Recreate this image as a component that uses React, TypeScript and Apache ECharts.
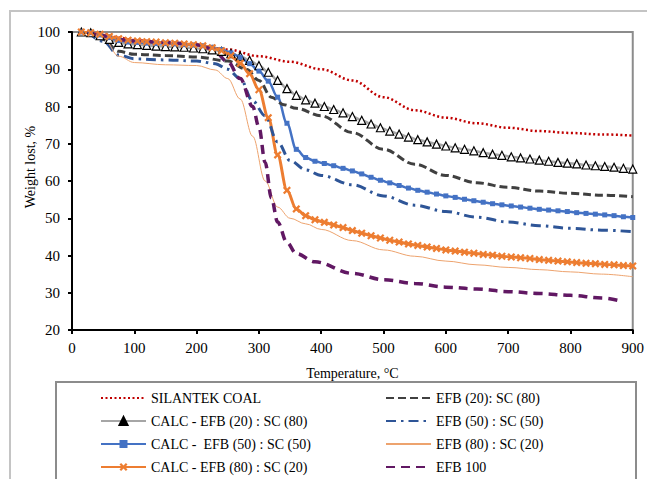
import React, { useEffect, useRef } from "react";
import * as echarts from "echarts";

// ---------- data ----------
const calcTemps = [15, 30, 45, 60, 75, 90, 105, 120, 135, 150, 165, 180, 195, 210, 225, 240, 255, 270, 285, 300, 315, 330, 345, 360, 375, 390, 405, 420, 435, 450, 465, 480, 495, 510, 525, 540, 555, 570, 585, 600, 615, 630, 645, 660, 675, 690, 705, 720, 735, 750, 765, 780, 795, 810, 825, 840, 855, 870, 885, 900];
const calcEfb20 = [100, 99.8, 99, 98, 97.2, 96.8, 96.6, 96.4, 96.2, 96.1, 96, 95.9, 95.7, 95.5, 95.2, 94.8, 94.2, 93.5, 92.4, 91, 89.2, 87, 84.8, 83, 81.8, 80.9, 80, 79.2, 78.3, 77.3, 76.3, 75.3, 74.3, 73.4, 72.6, 71.8, 71.1, 70.5, 69.9, 69.4, 68.9, 68.5, 68.1, 67.6, 67.2, 66.9, 66.5, 66.2, 65.9, 65.6, 65.3, 65, 64.8, 64.6, 64.3, 64.1, 63.9, 63.7, 63.4, 63.2];
const calcEfb50 = [100, 99.8, 99.2, 98.5, 97.7, 97.3, 97.2, 97, 96.9, 96.9, 96.8, 96.6, 96.5, 96.3, 95.9, 95.3, 94.4, 93.2, 91.5, 89.5, 86.8, 82.5, 75.5, 68.5, 66.3, 65.3, 64.7, 64.1, 63.4, 62.7, 61.9, 61, 60.2, 59.5, 58.8, 58.1, 57.5, 57, 56.5, 56, 55.6, 55.1, 54.7, 54.3, 53.9, 53.6, 53.3, 53, 52.7, 52.4, 52.2, 52, 51.8, 51.5, 51.3, 51.1, 50.9, 50.7, 50.4, 50.2];
const calcEfb80 = [100, 99.8, 99.4, 98.8, 98.2, 97.8, 97.6, 97.4, 97.3, 97.1, 97, 96.8, 96.6, 96.3, 95.8, 95, 93.6, 91.6, 88.8, 84.5, 77, 67, 57.5, 52.5, 50.7, 49.6, 48.9, 48.2, 47.5, 46.7, 46, 45.3, 44.7, 44.1, 43.6, 43.1, 42.7, 42.3, 41.9, 41.5, 41.2, 40.9, 40.6, 40.3, 40.1, 39.8, 39.6, 39.4, 39.2, 38.9, 38.7, 38.5, 38.3, 38.1, 37.9, 37.8, 37.6, 37.5, 37.3, 37.2];

const coalTemps = [25, 50, 75, 100, 150, 200, 250, 300, 350, 400, 450, 500, 550, 600, 650, 700, 750, 800, 850, 900];
const silantekCoal = [100, 99.5, 98.5, 97.8, 97.2, 96.6, 95.3, 93.5, 92, 90, 87, 82.5, 79, 77, 75.5, 74.3, 73.4, 72.9, 72.5, 72.2];

const efb20Temps = [25, 50, 75, 100, 150, 200, 250, 280, 300, 320, 340, 360, 400, 450, 500, 550, 600, 650, 700, 750, 800, 850, 900];
const efb20 = [100, 98, 94.8, 94, 93.7, 93.3, 92.2, 90, 87, 82.5, 80.5, 79.5, 77.5, 73, 68.5, 64.5, 61.5, 59.5, 58.3, 57.3, 56.7, 56.2, 55.8];

const efb50Temps = [25, 50, 75, 100, 150, 200, 230, 250, 270, 290, 310, 330, 350, 375, 400, 450, 500, 550, 600, 650, 700, 750, 800, 850, 900];
const efb50 = [100, 97.5, 93.8, 92.8, 92.5, 92.2, 91.5, 90, 87.5, 81.5, 77.5, 70.5, 65.5, 63, 61.5, 59, 56, 53.5, 51.8, 50.3, 49, 48, 47.3, 46.8, 46.4];

const efb80Temps = [25, 50, 75, 100, 150, 200, 230, 250, 270, 290, 310, 330, 350, 375, 400, 450, 500, 550, 600, 650, 700, 750, 800, 850, 900];
const efb80 = [100, 98.5, 93.5, 91.8, 91.2, 91, 89.8, 87.5, 82, 72, 60, 53, 50, 48.5, 47, 44, 41.5, 39.8, 38.5, 37.5, 36.8, 36.2, 35.6, 35, 34.3];

const efb100Temps = [25, 50, 75, 100, 150, 200, 225, 250, 270, 290, 300, 310, 320, 330, 345, 360, 390, 450, 500, 550, 600, 650, 700, 750, 800, 850, 880];
const efb100 = [100, 99, 98, 97.6, 97.2, 96.6, 95.5, 92, 87.5, 80, 74.5, 65, 55.5, 49, 43.5, 40.5, 38.3, 35.2, 33.5, 32.5, 31.5, 31, 30.3, 29.8, 29.3, 28.6, 27.8];

const xTicks = { min: 0, max: 900, interval: 100 };
const yTicks = { min: 20, max: 100, interval: 10 };

const names = [
  "SILANTEK COAL",
  "CALC - EFB (20) : SC (80)",
  "CALC -  EFB (50) : SC (50)",
  "CALC - EFB (80) : SC (20)",
  "EFB (20): SC (80)",
  "EFB (50) : SC (50)",
  "EFB (80) : SC (20)",
  "EFB 100",
];

const zip = (xs: number[], ys: number[]) => xs.map((x, i) => [x, ys[i]]);

const FONT = "Liberation Serif, Times New Roman, serif";
const X_PATH =
  "path://M0,2 L2,0 L5,3 L8,0 L10,2 L7,5 L10,8 L8,10 L5,7 L2,10 L0,8 L3,5 Z";

const noMark = (name: string) => ({ name, itemStyle: { opacity: 0 } });

export default function App() {
  const ref = useRef<HTMLDivElement>(null);
  useEffect(() => {
    if (!ref.current) return;
    const chart = echarts.init(ref.current, undefined, { renderer: "svg" });
    const base = {
      type: "line",
      smooth: 0.35,
      smoothMonotone: "x",
      animation: false,
    };
    const legendCommon = {
      orient: "vertical",
      top: 391,
      height: 86,
      itemWidth: 45,
      itemHeight: 10,
      itemGap: 9,
      padding: 0,
      textStyle: { fontFamily: FONT, fontSize: 14, lineHeight: 14, color: "#000" },
    };
    chart.setOption({
      animation: false,
      backgroundColor: "#fff",
      textStyle: { fontFamily: FONT },
      grid: {
        left: 72,
        right: 9,
        top: 32,
        bottom: 149,
        show: true,
        borderColor: "#8c8c8c",
        borderWidth: 2,
      },
      xAxis: {
        type: "value",
        min: xTicks.min,
        max: xTicks.max,
        interval: xTicks.interval,
        name: "Temperature, °C",
        nameLocation: "middle",
        nameGap: 36,
        nameTextStyle: { fontFamily: FONT, fontSize: 14, color: "#000" },
        axisLine: { lineStyle: { color: "#000", width: 2 } },
        axisTick: { length: 4, lineStyle: { color: "#000", width: 2 } },
        axisLabel: { fontFamily: FONT, fontSize: 15, color: "#000", margin: 10 },
        splitLine: { show: false },
      },
      yAxis: {
        type: "value",
        min: yTicks.min,
        max: yTicks.max,
        interval: yTicks.interval,
        axisLine: { show: true, lineStyle: { color: "#000", width: 2 } },
        axisTick: { show: true, length: 4, lineStyle: { color: "#000", width: 2 } },
        axisLabel: { fontFamily: FONT, fontSize: 15, color: "#000", margin: 12 },
        splitLine: { show: false },
      },
      graphic: [
        {
          type: "rect",
          shape: { x: 10, y: 11, width: 700, height: 600 },
          style: { fill: "none", stroke: "#c4c4c4", lineWidth: 2 },
          silent: true,
          z: -10,
        },
        {
          type: "rect",
          shape: { x: 56, y: 382, width: 580, height: 200 },
          style: { fill: "none", stroke: "#8c8c8c", lineWidth: 2 },
          silent: true,
        },
        {
          type: "text",
          x: 30,
          y: 167,
          rotation: Math.PI / 2,
          style: {
            text: "Weight lost, %",
            font: `14px ${FONT}`,
            fill: "#000",
            align: "center",
            verticalAlign: "middle",
          },
        },
      ],
      legend: [
        {
          ...legendCommon,
          left: 100,
          data: [
            noMark(names[0]),
            { name: names[1], itemStyle: { color: "#000", borderColor: "#000" } },
            names[2],
            names[3],
          ],
        },
        {
          ...legendCommon,
          left: 385,
          data: [noMark(names[4]), noMark(names[5]), noMark(names[6]), noMark(names[7])],
        },
      ],
      series: [
        {
          ...base,
          name: names[0],
          data: zip(coalTemps, silantekCoal),
          symbol: "none",
          color: "#C00000",
          lineStyle: { color: "#C00000", width: 2.5, type: [2, 2.5] },
        },
        {
          ...base,
          name: names[1],
          data: zip(calcTemps, calcEfb20),
          symbol: "triangle",
          symbolSize: 8,
          showSymbol: true,
          color: "#a6a6a6",
          itemStyle: { color: "#fff", borderColor: "#000", borderWidth: 1.2 },
          lineStyle: { color: "#a6a6a6", width: 2.5 },
        },
        {
          ...base,
          name: names[2],
          data: zip(calcTemps, calcEfb50),
          symbol: "rect",
          symbolSize: 5,
          showSymbol: true,
          color: "#4472C4",
          itemStyle: { color: "#4472C4" },
          lineStyle: { color: "#4472C4", width: 2.5 },
        },
        {
          ...base,
          name: names[3],
          data: zip(calcTemps, calcEfb80),
          symbol: X_PATH,
          symbolSize: 8,
          showSymbol: true,
          color: "#ED7D31",
          itemStyle: { color: "#ED7D31" },
          lineStyle: { color: "#ED7D31", width: 3 },
        },
        {
          ...base,
          name: names[4],
          data: zip(efb20Temps, efb20),
          symbol: "none",
          color: "#404040",
          lineStyle: { color: "#404040", width: 3, type: [8, 4] },
        },
        {
          ...base,
          name: names[5],
          data: zip(efb50Temps, efb50),
          symbol: "none",
          color: "#2E5597",
          lineStyle: { color: "#2E5597", width: 3, type: [10, 5, 2.5, 5] },
        },
        {
          ...base,
          name: names[6],
          data: zip(efb80Temps, efb80),
          symbol: "none",
          color: "#EDA36E",
          lineStyle: { color: "#EDA36E", width: 1 },
        },
        {
          ...base,
          name: names[7],
          data: zip(efb100Temps, efb100),
          symbol: "none",
          color: "#611863",
          lineStyle: { color: "#611863", width: 3.5, type: [9, 6] },
        },
      ],
    });
    return () => chart.dispose();
  }, []);
  return (
    <div
      ref={ref}
      style={{ position: "absolute", left: 0, top: 0, width: 647, height: 479 }}
    />
  );
}
